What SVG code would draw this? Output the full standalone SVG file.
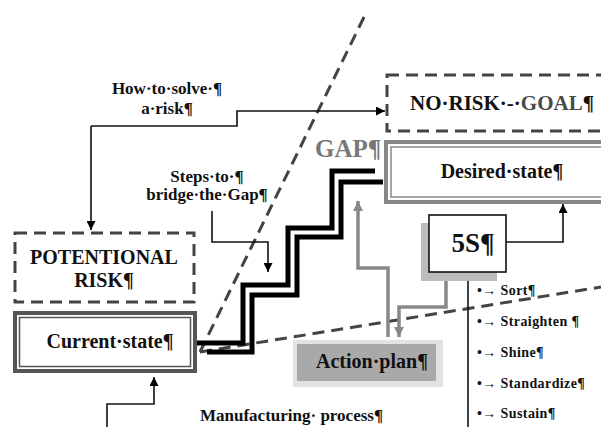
<svg xmlns="http://www.w3.org/2000/svg" width="601" height="427" viewBox="0 0 601 427">
<defs>
<marker id="ah" viewBox="0 0 10 10" refX="10" refY="5" markerWidth="9" markerHeight="9" markerUnits="userSpaceOnUse" orient="auto"><path d="M0,0 L10,5 L0,10 z" fill="#000"/></marker>
<marker id="ahg" viewBox="0 0 10 10" refX="10" refY="5" markerWidth="10" markerHeight="10" markerUnits="userSpaceOnUse" orient="auto"><path d="M0,0 L10,5 L0,10 z" fill="#888"/></marker>
<style>
text{font-family:"Liberation Serif","Times New Roman",serif;font-weight:bold;fill:#111}
.dash{fill:none;stroke:#444;stroke-width:3;stroke-dasharray:12 7}
.conn{fill:none;stroke:#111;stroke-width:1.6}
.gconn{fill:none;stroke:#888;stroke-width:3.5}
.stair{fill:none;stroke:#000;stroke-width:5;stroke-linejoin:miter}
.lst{font-size:14px;letter-spacing:0.4px}
</style>
</defs>
<rect width="601" height="427" fill="#fff"/>
<g id="guides">
<line class="dash" x1="200" y1="352" x2="366" y2="13"/>
<line class="dash" x1="200" y1="352" x2="601" y2="287"/>
</g>
<g id="stairs">
<polyline class="stair" points="197,343 243,343 243,285 288,285 288,228 332,228 332,171 375,171"/>
<polyline class="stair" points="207,352 252,352 252,295 297,295 297,237 341,237 341,182 383,182"/>
</g>
<g id="connectors">
<path class="conn" d="M91,126 L237,126 L237,111 L385,111" marker-end="url(#ah)"/>
<path class="conn" d="M91,126 L91,230" marker-end="url(#ah)"/>
<path class="conn" d="M212,211 L212,242 L268,242 L268,272" marker-end="url(#ah)"/>
<path class="conn" d="M107,427 L107,404 L154,404 L154,377" marker-end="url(#ah)"/>
<path class="conn" d="M506,242 L563,242 L563,204" marker-end="url(#ah)"/>
<path class="conn" d="M468,272 L468,427"/>
<path class="gconn" d="M388,337 L388,268 L358,268 L358,201" marker-end="url(#ahg)"/>
<path class="gconn" d="M446,280 L446,307 L399,307 L399,337" marker-end="url(#ahg)"/>
</g>
<g id="noRisk">
<rect class="dash" x="387" y="75" width="240" height="56"/>
<text x="410" y="110" font-size="21">NO·RISK·-·<tspan fill="#4a4a4a">GOAL</tspan>¶</text>
</g>
<g id="desired">
<rect x="386" y="142" width="240" height="60" fill="#fff" stroke="#888" stroke-width="4"/>
<rect x="391" y="147" width="240" height="50" fill="none" stroke="#888" stroke-width="1.5"/>
<text x="502" y="178" font-size="20" text-anchor="middle">Desired·state¶</text>
</g>
<g id="gap">
<text x="315" y="157" font-size="25" fill="#777" style="fill:#777">GAP¶</text>
</g>
<g id="howTo">
<text x="167" y="94" font-size="17" text-anchor="middle">How·to·solve·¶</text>
<text x="167" y="114" font-size="17" text-anchor="middle">a·risk¶</text>
</g>
<g id="steps">
<text x="207" y="182" font-size="17" text-anchor="middle">Steps·to·¶</text>
<text x="207" y="200" font-size="17" text-anchor="middle">bridge·the·Gap¶</text>
</g>
<g id="potential">
<rect class="dash" x="15" y="233" width="179" height="69"/>
<text x="104" y="264" font-size="20" text-anchor="middle">POTENTIONAL</text>
<text x="104" y="287" font-size="20" text-anchor="middle">RISK¶</text>
</g>
<g id="current">
<rect x="15" y="313" width="180" height="58" fill="#fff" stroke="#555" stroke-width="4"/>
<rect x="19.5" y="317.5" width="171" height="49" fill="none" stroke="#555" stroke-width="1.5"/>
<text x="110" y="348" font-size="20" text-anchor="middle">Current·state¶</text>
</g>
<g id="fiveS">
<rect x="421" y="223" width="76" height="58" fill="#bcbcbc"/>
<rect x="429" y="215" width="77" height="57" fill="#fff" stroke="#111" stroke-width="1.6"/>
<text x="473" y="252" font-size="27" text-anchor="middle">5S¶</text>
</g>
<g id="actionPlan">
<rect x="293" y="340" width="150" height="47" fill="#e2e2e2"/>
<rect x="297" y="344" width="139" height="37" fill="#a9a9a9"/>
<text x="372" y="368" font-size="20" text-anchor="middle">Action·plan¶</text>
</g>
<g id="manufacturing">
<text x="200" y="421" font-size="17">Manufacturing· process¶</text>
</g>
<g id="list">
<text class="lst" x="477" y="295">•→ Sort¶</text>
<text class="lst" x="477" y="326">•→ Straighten ¶</text>
<text class="lst" x="477" y="357">•→ Shine¶</text>
<text class="lst" x="477" y="388">•→ Standardize¶</text>
<text class="lst" x="477" y="418">•→ Sustain¶</text>
</g>
</svg>
